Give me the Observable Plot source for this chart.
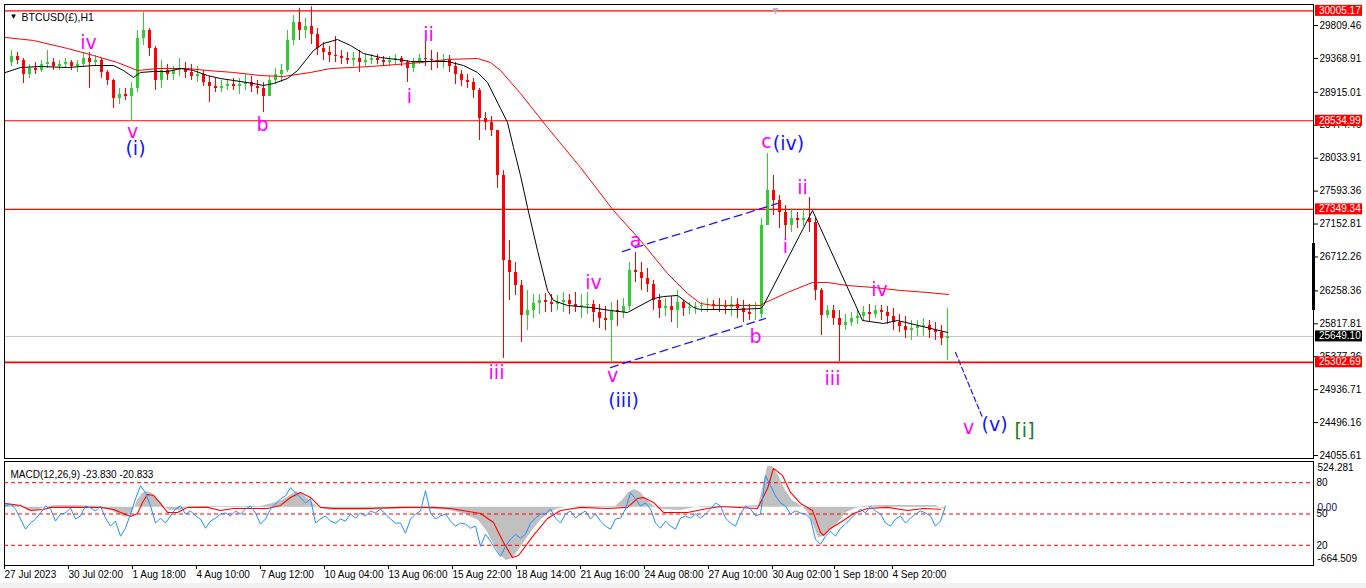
<!DOCTYPE html>
<html><head><meta charset="utf-8">
<script src="https://cdn.jsdelivr.net/npm/d3@7"></script>
<script src="https://cdn.jsdelivr.net/npm/@observablehq/plot@0.6"></script>
<style>
html,body{margin:0;padding:0;background:#f0f0f0;}
#wrap{position:relative;width:1366px;height:583px;background:#fff;overflow:hidden;}
#wrap svg{position:absolute;left:0;}
</style></head><body><div id="wrap"></div>
<script>
// ---------- DATA ----------
const symbolTitle = "BTCUSD(£),H1";
const macdTitle = "MACD(12,26,9) -23.830 -20.833";

// 6-hour candles (one every 6 hourly bars)
const firstOpen = 29314;
const candleHigh = [
29475,29448,29368,29288,29314,29341,29475,29368,29341,29368,
29341,29341,29448,29448,29408,29368,29207,29090,28966,28966,
29047,29743,29983,29769,29528,29341,29288,29261,29368,29314,
29288,29261,29207,29127,29100,29074,29074,29100,29100,29154,
29127,29074,29047,29127,29234,29288,29743,29943,30040,29903,
30060,29769,29582,29528,29662,29475,29448,29448,29475,29421,
29421,29421,29395,29395,29421,29395,29341,29368,29421,29609,
29475,29448,29421,29408,29314,29207,29154,29100,28966,28645,
28592,28404,27869,26933,26638,26397,26264,26210,26210,26223,
26210,26197,26237,26210,26237,26210,26237,26130,26076,26049,
26103,26130,26156,26638,26772,26638,26558,26397,26210,26156,
26183,26264,26130,26103,26103,26103,26156,26130,26156,26130,
26183,26156,26130,26076,26103,27227,28097,27802,27535,27401,
27361,27307,27361,27508,27227,26290,26063,26063,25996,25942,
25969,25996,26049,26076,26063,26063,26049,26023,25942,25916,
25862,25862,25889,25862,25835,25795,26023];
const candleLow = [
29261,29288,29033,29100,29154,29181,29234,29207,29207,29234,
29207,29181,29261,28966,29261,29100,29007,28699,28752,28806,
28525,28913,29542,29395,28940,28966,29074,29074,29127,29100,
29074,29047,28993,28779,28913,28913,28940,28940,28886,28940,
28913,28886,28645,28859,29020,29047,29181,29542,29609,29636,
29555,29408,29341,29314,29314,29288,29288,29261,29181,29261,
29288,29288,29261,29261,29288,29261,29047,29181,29288,29261,
29207,29234,29234,29181,29020,28993,28966,28833,28271,28404,
28324,27628,25354,26130,26197,25568,25728,25889,25942,25969,
25969,25996,25969,25942,25969,25889,25942,25835,25755,25728,
25303,25782,25889,25996,26371,26264,26237,25996,25889,25916,
25835,25755,25916,25942,25942,25969,25969,25996,25969,25942,
25916,25889,25835,25862,25862,25889,27133,27267,27093,26959,
27040,27093,27120,27040,26130,25661,25889,25795,25310,25728,
25782,25809,25862,25835,25889,25862,25809,25728,25702,25621,
25594,25648,25648,25621,25594,25528,25327];
const candleClose = [
29395,29341,29154,29234,29207,29288,29314,29261,29288,29314,
29261,29288,29368,29314,29341,29181,29074,28833,28886,28859,
28966,29636,29743,29502,29074,29207,29154,29207,29234,29181,
29127,29154,29047,28993,28966,28993,29020,28993,29020,29047,
28993,28966,28859,29074,29154,29207,29609,29850,29743,29796,
29689,29502,29448,29408,29395,29368,29341,29368,29314,29341,
29368,29341,29314,29341,29368,29314,29234,29314,29368,29355,
29341,29314,29341,29261,29154,29074,29047,28940,28565,28511,
28404,27802,26665,26504,26330,25929,25996,26090,26130,26103,
26076,26103,26130,26076,26049,26063,26076,25969,25889,25862,
25996,25969,26049,26531,26504,26424,26344,26130,26023,26049,
25996,26103,26023,26036,26049,26063,26076,26063,26049,26036,
26076,26023,25969,25942,25942,27133,27602,27468,27307,27133,
27227,27200,27227,27173,26264,25929,25996,25889,25795,25835,
25889,25916,25969,25942,25996,25969,25916,25835,25782,25728,
25755,25782,25795,25728,25702,25621,25649.10];

// moving averages (bar index, price)
const blackMaBar = [0,15,35,62,88,108,118,128,135,148,162,175,188,202,215,228,248,258,268,282,292,308,318,332,345,358,375,392,405,442,458,472,482,495,502,508,515,522,532,542,548,562,585,605,622,648,658,672,688,695,728,755,758,807,857,878,892,942];
const blackMa = [29181,29247,29261,29247,29274,29274,29207,29114,29181,29194,29194,29234,29207,29140,29100,29074,29033,29007,29033,29100,29207,29475,29569,29622,29542,29435,29381,29354,29328,29328,29274,29181,29047,28699,28511,28177,27802,27374,26799,26264,26130,26063,26036,25996,25969,26156,26183,26197,26036,26009,26009,26023,26063,27334,25862,25822,25862,25702];
const redMaBar = [0,28,62,88,112,132,152,182,202,228,255,278,305,325,345,365,392,415,442,472,485,495,515,542,575,608,635,662,682,695,708,755,758,782,807,822,842,868,895,922,943];
const redMa = [29649,29609,29502,29408,29314,29207,29234,29234,29207,29181,29140,29127,29181,29234,29247,29261,29288,29314,29355,29368,29314,29207,28900,28445,27909,27334,26933,26491,26223,26090,26063,26063,26090,26237,26371,26371,26330,26304,26264,26237,26210];

// horizontal levels
const levels = [30005.17, 28534.99, 27349.34, 25302.69];
const bidPrice = 25649.10;
const priceTicks = [29809.46,29368.91,28915.01,28474.46,28033.91,27593.36,27152.81,26712.26,26258.36,25817.81,25377.26,24936.71,24496.16,24055.61];

// channel / projection lines
const chanLowBar = [605, 760], chanLow = [25233, 25889];
const chanUpBar = [617, 772], chanUp = [26785, 27428];
const projBar = [950, 977], proj = [25434, 24564];

// Elliott wave labels
const waveText  = ["iv","v","(i)","b","i","ii","iii","iv","v","(iii)","a","b","c","(iv)","i","ii","iii","iv","v","(v)","[i]"];
const waveBar   = [83,127,130,257,404,423,491,588,607,618,630,750,761,783,780,797,827,874,963,989,1019];
const wavePrice = [29582,28391,28164,28485,28859,29689,25166,26371,25126,24792,26933,25648,28257,28231,26852,27642,25086,26277,24430,24470,24390];
const waveKind  = ["m","m","b","m","m","m","m","m","m","b","m","m","m","b","m","m","m","m","m","b","g"];

// MACD main (histogram) and signal
const histBar = [0,10,17,23,33,39,50,70,90,100,110,120,127,132,137,142,147,153,159,165,175,183,195,225,255,267,277,285,291,297,303,310,317,325,355,385,415,445,460,473,481,489,495,501,507,513,520,527,535,543,551,560,585,610,617,623,629,635,642,649,655,675,685,695,735,753,758,762,767,773,780,787,795,801,807,813,819,825,833,841,850,857,875,895,915,930,940];
const histVal = [33,33,0,-35,-35,0,20,20,10,-13,-58,-115,-58,79,159,182,159,79,0,-35,-35,0,10,10,10,45,79,136,182,147,90,22,-13,-35,-35,-24,-13,-35,-81,-150,-264,-435,-550,-607,-584,-493,-378,-264,-150,-70,-24,0,10,10,79,170,205,170,79,10,-24,-35,-13,10,10,20,250,467,467,365,193,79,22,-35,-173,-344,-333,-264,-173,-58,-13,10,22,22,22,22,-24];
const sigBar = [0,15,25,38,45,62,95,108,125,132,137,142,148,155,162,172,182,202,215,228,262,275,285,295,305,315,328,362,395,428,445,475,488,498,507,513,528,542,555,575,602,622,632,638,648,658,682,702,715,752,762,768,777,785,795,807,815,818,825,838,848,862,882,902,918,935];
const sigVal = [45,22,-35,-24,0,0,0,-24,-104,-70,56,147,136,45,-58,-58,0,0,-35,-13,-13,22,113,170,113,0,-13,-13,0,0,-13,-70,-173,-401,-573,-550,-321,-127,-35,0,-13,0,102,113,56,-58,-58,-13,10,-13,216,445,365,170,45,-35,-287,-321,-241,-150,-70,-13,0,-35,-13,-21];
const macdAxis = [524.281, 0, -664.509];

// oscillator (0-100), one value every 5 bars
const oscVal = [
57.7,59.7,54.8,45.2,35.5,41.3,45.2,51.0,57.7,54.8,
43.2,50.0,51.0,55.8,45.2,48.1,57.7,55.8,52.9,57.7,
46.1,38.4,43.2,28.7,36.4,50.0,64.5,77.1,70.3,57.7,
41.3,46.1,41.3,48.1,54.8,57.7,50.0,52.9,48.1,45.2,
36.4,43.2,46.1,50.0,51.0,48.1,52.9,50.0,54.8,57.7,
51.0,40.3,45.2,54.8,59.7,64.5,67.4,75.2,70.3,65.5,
60.6,64.5,41.3,45.2,48.1,43.2,41.3,45.2,43.2,50.0,
46.1,51.0,48.1,52.9,51.0,54.8,50.0,45.2,41.3,41.3,
31.6,45.2,50.0,52.9,72.3,51.0,45.2,48.1,50.0,43.2,
38.4,41.3,40.3,36.4,38.4,19.0,30.6,23.9,16.1,9.3,
19.0,25.8,30.6,26.8,30.6,41.3,46.1,50.0,50.0,54.8,
46.1,41.3,50.0,52.9,46.1,50.0,52.9,45.2,50.0,43.2,
38.4,35.5,45.2,46.1,54.8,70.3,64.5,57.7,60.6,54.8,
41.3,36.4,43.2,38.4,35.5,46.1,48.1,46.1,50.0,46.1,
50.0,54.8,60.6,57.7,46.1,41.3,38.4,50.0,57.7,54.8,
48.1,50.0,86.8,77.1,67.4,60.6,57.7,50.0,52.9,51.0,
50.0,45.2,25.8,21.0,28.7,33.5,28.7,36.4,40.3,45.2,
50.0,54.8,51.0,57.7,52.9,50.0,41.3,38.4,45.2,48.1,
41.3,46.1,50.0,52.9,51.0,48.1,38.4,43.2,57.7];
const oscLevels = [80, 50, 20];

// time axis
const dateTickBars = [0,64,128,192,256,320,384,448,512,576,640,704,768,830,888];
const dateTickLabels = ["27 Jul 2023","30 Jul 02:00","1 Aug 18:00","4 Aug 10:00","7 Aug 12:00","10 Aug 04:00","13 Aug 06:00","15 Aug 22:00","18 Aug 14:00","21 Aug 16:00","24 Aug 08:00","27 Aug 10:00","30 Aug 02:00","1 Sep 18:00","4 Sep 20:00"];

// ---------- BUILD ----------
const W = 1366;
const XDOM = [-1, 1308];
const FONT = "Liberation Sans, Arial, sans-serif";
const GREEN = "#32cd32", RED = "#ff0000";
const MAG = "#ff00ff", BLUE = "#1414ff", DKGREEN = "#1f7a12";

const candles = candleClose.map((c, k) => ({
  x: 6 * k + 6, open: k ? candleClose[k - 1] : firstOpen,
  high: candleHigh[k], low: candleLow[k], close: c
}));
const up = candles.filter(d => d.close >= d.open);
const dn = candles.filter(d => d.close < d.open);

const waves = waveText.map((t, i) => ({t, x: waveBar[i], y: wavePrice[i], k: waveKind[i]}));
const waveMark = (kind, color) => Plot.text(waves.filter(d => d.k === kind), {
  x: "x", y: "y", text: "t", fill: color, fontSize: 19, fontFamily: "DejaVu Sans, sans-serif"
});

const main = Plot.plot({
  width: W, height: 460,
  marginTop: 4, marginBottom: 2, marginLeft: 4, marginRight: 53,
  x: {domain: XDOM, axis: null},
  y: {domain: [24015.5, 30090.5], axis: null},
  style: {fontFamily: FONT, fontSize: "10px", background: "transparent", overflow: "visible"},
  marks: [
    Plot.ruleY(levels.slice(0, 3), {stroke: RED, strokeWidth: 1.2}),
    Plot.ruleY(levels.slice(3), {stroke: RED, strokeWidth: 1.7}),
    Plot.ruleY([bidPrice], {stroke: "#c0c0c0", strokeWidth: 1}),
    Plot.ruleX(up, {x: "x", y1: "low", y2: "high", stroke: GREEN, strokeWidth: 1}),
    Plot.ruleX(dn, {x: "x", y1: "low", y2: "high", stroke: RED, strokeWidth: 1}),
    Plot.ruleX(up, {x: "x", y1: "open", y2: "close", stroke: GREEN, strokeWidth: 3}),
    Plot.ruleX(dn, {x: "x", y1: "open", y2: "close", stroke: RED, strokeWidth: 3}),
    Plot.line(redMa, {x: redMaBar, y: redMa, stroke: RED, strokeWidth: 1}),
    Plot.line(blackMa, {x: blackMaBar, y: blackMa, stroke: "#000", strokeWidth: 1}),
    Plot.line(chanLow, {x: chanLowBar, y: chanLow, stroke: "#1a1aee", strokeWidth: 1.3, strokeDasharray: "8,5"}),
    Plot.line(chanUp, {x: chanUpBar, y: chanUp, stroke: "#1a1aee", strokeWidth: 1.3, strokeDasharray: "8,5"}),
    Plot.line(proj, {x: projBar, y: proj, stroke: "#1a1aee", strokeWidth: 1.2, strokeDasharray: "5,3"}),
    waveMark("m", MAG),
    waveMark("b", BLUE),
    waveMark("g", DKGREEN),
    Plot.text([symbolTitle], {frameAnchor: "top-left", dx: 17, dy: 9, textAnchor: "start", fontSize: 10.5, fill: "#000"}),
    Plot.text(["▼"], {frameAnchor: "top-left", dx: 5, dy: 9, textAnchor: "start", fontSize: 8, fill: "#000"}),
    Plot.text(["▼"], {x: [770], frameAnchor: "top", dy: 2, fontSize: 10, fill: "#b0b0b0"}),
    Plot.axisY({anchor: "right", ticks: priceTicks, tickFormat: d => d.toFixed(2), tickSize: 4, tickPadding: 2, fontSize: 10}),
    Plot.frame({stroke: "#000"})
  ]
});

const macd = Plot.plot({
  width: W, height: 129,
  marginTop: 2, marginBottom: 23, marginLeft: 4, marginRight: 53,
  x: {domain: XDOM, axis: null},
  y: {domain: [-664.509, 524.281], axis: null},
  style: {fontFamily: FONT, fontSize: "10px", background: "transparent", overflow: "visible"},
  marks: [
    Plot.areaY(histVal, {x: histBar, y: histVal, fill: "#c0c0c0"}),
    Plot.line(sigVal, {x: sigBar, y: sigVal, stroke: RED, strokeWidth: 1.1}),
    Plot.text([macdAxis[0]], {y: d => d, text: d => d.toFixed(3), frameAnchor: "right", dx: 4, dy: 6, textAnchor: "start", fontSize: 10}),
    Plot.text([macdAxis[1]], {y: d => d, text: d => d.toFixed(2), frameAnchor: "right", dx: 4, dy: 0, textAnchor: "start", fontSize: 10, fill: "#10105a"}),
    Plot.text([macdAxis[2]], {y: d => d, text: d => d.toFixed(3), frameAnchor: "right", dx: 4, dy: -7, textAnchor: "start", fontSize: 10}),
    Plot.text([macdTitle], {frameAnchor: "top-left", dx: 6, dy: 9, textAnchor: "start", fontSize: 10, fill: "#000"}),
    Plot.axisX({anchor: "bottom", ticks: dateTickBars, tickFormat: d => dateTickLabels[dateTickBars.indexOf(d)], tickSize: 4, tickPadding: 1, textAnchor: "start", dx: -1, fontSize: 10}),
    Plot.frame({stroke: "#000"})
  ]
});

const osc = Plot.plot({
  width: W, height: 129,
  marginTop: 2.33, marginBottom: 22.33, marginLeft: 4, marginRight: 53,
  x: {domain: XDOM, axis: null},
  y: {domain: [0, 100], axis: null},
  style: {fontFamily: FONT, fontSize: "10px", background: "transparent", overflow: "visible"},
  marks: [
    Plot.ruleY(oscLevels, {stroke: RED, strokeWidth: 1, strokeDasharray: "4,3"}),
    Plot.line(oscVal, {x: (d, i) => i * 5, y: d => d, stroke: "#1e90ff", strokeWidth: 1}),
    Plot.text(oscLevels, {y: d => d, text: d => String(d), frameAnchor: "right", dx: 3, textAnchor: "start", fontSize: 10})
  ]
});

// price-axis highlight boxes drawn through the plot's own y scale
const ys = main.scale("y");
const g = d3.select(main).append("g").attr("text-anchor", "start");
const rangeBar = [26892, 25996];
g.append("rect").attr("x", 1312).attr("width", 3)
  .attr("y", ys.apply(rangeBar[0])).attr("height", ys.apply(rangeBar[1]) - ys.apply(rangeBar[0])).attr("fill", "#000");
const highlights = levels.map(v => ({v, bg: RED})).concat([{v: bidPrice, bg: "#000"}]);
for (const h of highlights) {
  const y = ys.apply(h.v);
  g.append("rect").attr("x", 1315).attr("y", y - 5.5).attr("width", 47).attr("height", 11).attr("fill", h.bg);
  g.append("text").attr("x", 1319).attr("y", y).attr("dy", "0.35em").attr("fill", "#fff")
    .attr("text-anchor", "start").attr("font-size", 10).attr("font-family", FONT).text(h.v.toFixed(2));
}

const wrap = document.getElementById("wrap");
main.style.top = "0px";
macd.style.top = "459px";
osc.style.top = "459px";
wrap.appendChild(main);
wrap.appendChild(macd);
wrap.appendChild(osc);
</script></body></html>
